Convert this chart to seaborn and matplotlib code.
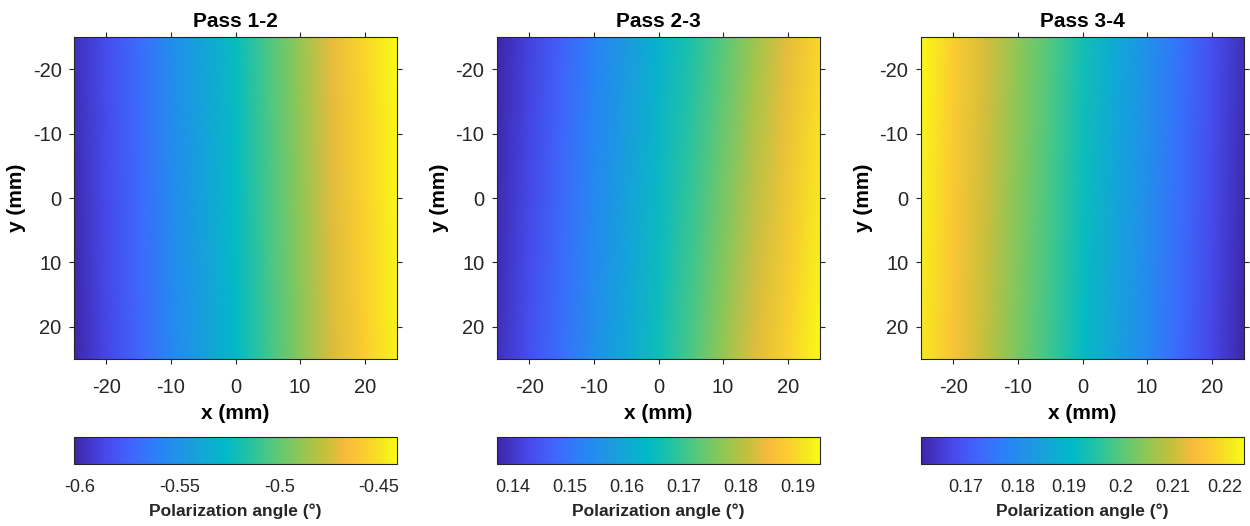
import numpy as np
import matplotlib
matplotlib.use("Agg")
import matplotlib.pyplot as plt
from matplotlib.colors import LinearSegmentedColormap
import seaborn as sns

# ---------------- data ----------------
x_mm = [-25, -20, -15, -10, -5, 0, 5, 10, 15, 20, 25]
y_mm = [-25, 25]

titles = ["Pass 1-2", "Pass 2-3", "Pass 3-4"]

# polarization angle (deg) along x, at the top row (y=-25) and bottom row (y=25)
p12_top = [-0.598, -0.585, -0.571, -0.554, -0.540, -0.524, -0.506, -0.488, -0.470, -0.454, -0.441]
p12_bot = [-0.603, -0.588, -0.574, -0.558, -0.543, -0.527, -0.509, -0.491, -0.473, -0.457, -0.444]

p23_top = [0.1372, 0.1417, 0.1468, 0.1519, 0.1570, 0.1621, 0.1673, 0.1724, 0.1780, 0.1837, 0.1894]
p23_bot = [0.1389, 0.1440, 0.1491, 0.1548, 0.1599, 0.1656, 0.1712, 0.1775, 0.1831, 0.1888, 0.1939]

p34_top = [0.2237, 0.2175, 0.2112, 0.2050, 0.1994, 0.1932, 0.1869, 0.1813, 0.1751, 0.1689, 0.1633]
p34_bot = [0.2212, 0.2156, 0.2094, 0.2031, 0.1975, 0.1913, 0.1851, 0.1795, 0.1732, 0.1670, 0.1614]

cbar_ticks = [
    [-0.6, -0.55, -0.5, -0.45],
    [0.14, 0.15, 0.16, 0.17, 0.18, 0.19],
    [0.17, 0.18, 0.19, 0.2, 0.21, 0.22],
]
cbar_ticklabels = [
    ["-0.6", "-0.55", "-0.5", "-0.45"],
    ["0.14", "0.15", "0.16", "0.17", "0.18", "0.19"],
    ["0.17", "0.18", "0.19", "0.2", "0.21", "0.22"],
]
axis_ticks = [-20, -10, 0, 10, 20]
axis_ticklabels = ["-20", "-10", "0", "10", "20"]

panels = [(p12_top, p12_bot), (p23_top, p23_bot), (p34_top, p34_bot)]

# ---------------- parula-like colormap ----------------
parula_anchors = [
    (0.00, (0.2422, 0.1504, 0.6603)),
    (0.10, (0.2780, 0.2900, 0.9300)),
    (0.18, (0.2500, 0.4000, 0.9950)),
    (0.26, (0.1600, 0.5100, 0.9700)),
    (0.34, (0.1200, 0.5900, 0.8900)),
    (0.42, (0.0500, 0.6800, 0.8200)),
    (0.47, (0.0000, 0.7300, 0.7800)),
    (0.54, (0.1300, 0.7600, 0.6500)),
    (0.62, (0.3400, 0.7900, 0.4800)),
    (0.70, (0.5600, 0.7800, 0.3300)),
    (0.78, (0.7800, 0.7500, 0.2300)),
    (0.84, (0.9700, 0.7300, 0.2400)),
    (0.90, (0.9900, 0.8000, 0.1900)),
    (0.95, (0.9650, 0.8900, 0.1300)),
    (1.00, (0.9769, 0.9839, 0.0805)),
]
parula = LinearSegmentedColormap.from_list("parula", parula_anchors, N=256)

# ---------------- style ----------------
sns.set_theme(style="white")
plt.rcParams["font.family"] = ["Liberation Sans", "DejaVu Sans"]
plt.rcParams["axes.unicode_minus"] = False

dark = "#262626"
fig = plt.figure(figsize=(12.5, 5.26), dpi=100)

W, H = 1250.0, 526.0
ax_lefts = [74, 497, 921]
ax_w = 323
ax_top, ax_bot = 37, 359
cb_top, cb_bot = 437, 464

for i, ((top, bot), title) in enumerate(zip(panels, titles)):
    left = ax_lefts[i] / W
    ax = fig.add_axes([left, 1 - ax_bot / H, ax_w / W, (ax_bot - ax_top) / H])
    cax = fig.add_axes([left, 1 - cb_bot / H, ax_w / W, (cb_bot - cb_top) / H])

    Z = np.array([top, bot])
    vmin, vmax = Z.min(), Z.max()
    mesh = ax.pcolormesh(x_mm, y_mm, Z, shading="gouraud", cmap=parula,
                         vmin=vmin, vmax=vmax, rasterized=True)
    ax.set_xlim(-25, 25)
    ax.set_ylim(25, -25)
    ax.set_xticks(axis_ticks)
    ax.set_xticklabels(axis_ticklabels)
    ax.set_yticks(axis_ticks)
    ax.set_yticklabels(axis_ticklabels)
    ax.tick_params(direction="out", length=3.5, width=0.8, colors=dark,
                   labelsize=14.5, top=True, right=True, bottom=True, left=True,
                   labeltop=False, labelright=False)
    ax.tick_params(axis="x", pad=10)
    ax.tick_params(axis="y", pad=5.5)
    for s in ax.spines.values():
        s.set_visible(True)
        s.set_color(dark)
        s.set_linewidth(0.8)
    ax.set_title(title, fontsize=15, fontweight="bold", color="black", pad=7)
    ax.set_xlabel("x (mm)", fontsize=15, fontweight="bold", color="black", labelpad=5)
    ax.set_ylabel("y (mm)", fontsize=15, fontweight="bold", color="black", labelpad=5)

    cb = fig.colorbar(mesh, cax=cax, orientation="horizontal")
    cb.set_ticks(cbar_ticks[i])
    cb.set_ticklabels(cbar_ticklabels[i])
    cax.tick_params(direction="in", length=3, width=0.8, colors=dark,
                    labelsize=13, bottom=True, top=False, pad=10.5)
    cb.outline.set_edgecolor(dark)
    cb.outline.set_linewidth(0.8)
    cb.set_label("Polarization angle (\u00b0)", fontsize=12.5, fontweight="bold",
                 color=dark, labelpad=6)

fig.savefig("out.png", dpi=100)
